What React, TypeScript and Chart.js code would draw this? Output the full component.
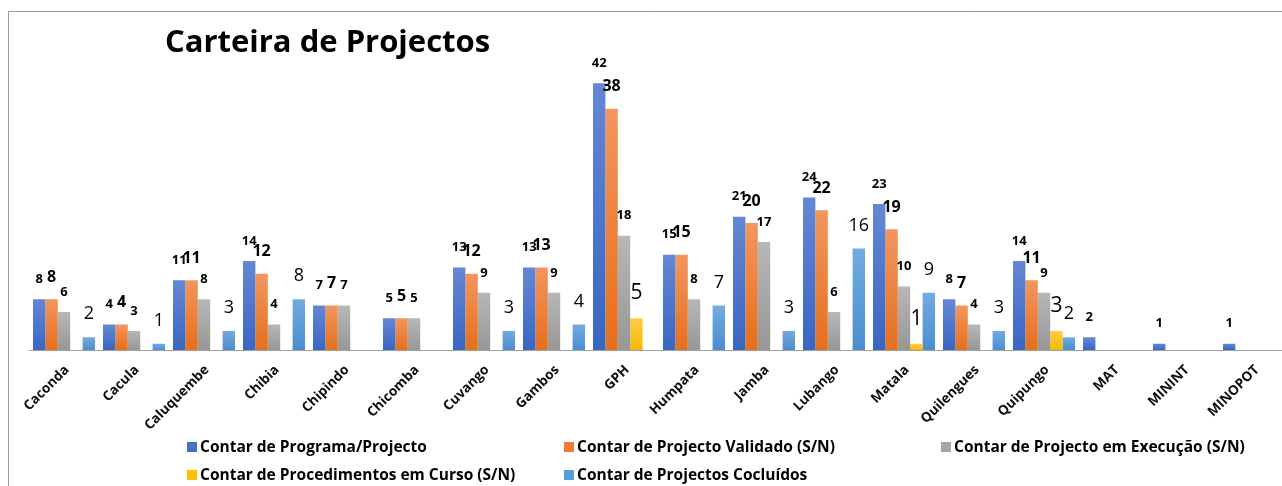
import React, { useEffect, useRef } from "react";
import { Chart, registerables } from "chart.js";

Chart.register(...registerables);

// ---------- data ----------
const categories = [
  "Caconda", "Cacula", "Caluquembe", "Chibia", "Chipindo", "Chicomba", "Cuvango", "Gambos", "GPH",
  "Humpata", "Jamba", "Lubango", "Matala", "Quilengues", "Quipungo", "MAT", "MININT", "MINOPOT",
];
const programaProjecto = [8, 4, 11, 14, 7, 5, 13, 13, 42, 15, 21, 24, 23, 8, 14, 2, 1, 1];
const projectoValidado = [8, 4, 11, 12, 7, 5, 12, 13, 38, 15, 20, 22, 19, 7, 11, null, null, null];
const projectoExecucao = [6, 3, 8, 4, 7, 5, 9, 9, 18, 8, 17, 6, 10, 4, 9, null, null, null];
const procedimentosCurso = [null, null, null, null, null, null, null, null, 5, null, null, null, 1, null, 3, null, null, null];
const projectosConcluidos = [2, 1, 3, 8, null, null, 3, 4, null, 7, 3, 16, 9, 3, 2, null, null, null];

const seriesNames = [
  "Contar de Programa/Projecto",
  "Contar de Projecto Validado (S/N)",
  "Contar de Projecto em Execução (S/N)",
  "Contar de Procedimentos em Curso (S/N)",
  "Contar de Projectos Cocluídos",
];
const seriesValues = [programaProjecto, projectoValidado, projectoExecucao, procedimentosCurso, projectosConcluidos];
const titleText = "Carteira de Projectos";

// ---------- styles ----------
const FONT = "'Open Sans', Lato, sans-serif";
const gradients: [string, string][] = [
  ["#6587D4", "#3966C3"],
  ["#F2965F", "#E56F1C"],
  ["#B7B7B7", "#979797"],
  ["#FFCE47", "#F5B800"],
  ["#72ABE0", "#4A8ECF"],
];
const legendColors = ["#4472C4", "#ED7D31", "#A5A5A5", "#FFC000", "#5B9BD5"];
const labelStyles = [
  { font: `bold 13px ${FONT}`, off: 20 },
  { font: `bold 16px ${FONT}`, off: 22 },
  { font: `bold 13px ${FONT}`, off: 20 },
  { font: `21px ${FONT}`, off: 25 },
  { font: `18px ${FONT}`, off: 23 },
];
const legendPos = [
  [187, 447], [564, 447], [941, 447], [187, 475], [564, 475],
];

const decorPlugin = {
  id: "decor",
  beforeDraw(chart: any) {
    const ctx = chart.ctx;
    ctx.save();
    ctx.fillStyle = "#ffffff";
    ctx.fillRect(0, 0, chart.width, chart.height);
    ctx.strokeStyle = "#9a9a9a";
    ctx.lineWidth = 1;
    ctx.beginPath();
    ctx.moveTo(8.5, chart.height);
    ctx.lineTo(8.5, 11.5);
    ctx.lineTo(chart.width, 11.5);
    ctx.stroke();
    // title
    ctx.fillStyle = "#000000";
    ctx.font = `bold 31px ${FONT}`;
    ctx.textBaseline = "alphabetic";
    ctx.textAlign = "left";
    ctx.fillText(titleText, 165, 52);
    // legend
    ctx.font = `bold 15.5px ${FONT}`;
    ctx.textBaseline = "middle";
    seriesNames.forEach((name, i) => {
      const [x, y] = legendPos[i];
      ctx.fillStyle = legendColors[i];
      ctx.fillRect(x, y - 5, 10, 10);
      ctx.fillStyle = "#000000";
      ctx.fillText(name, x + 13, y + 1);
    });
    ctx.restore();
  },
  afterDatasetsDraw(chart: any) {
    const ctx = chart.ctx;
    ctx.save();
    ctx.fillStyle = "#000000";
    ctx.textAlign = "center";
    ctx.textBaseline = "middle";
    chart.data.datasets.forEach((ds: any, i: number) => {
      const meta = chart.getDatasetMeta(i);
      ctx.font = labelStyles[i].font;
      meta.data.forEach((el: any, j: number) => {
        const v = ds.data[j];
        if (v === null || v === undefined || v === 0) return;
        ctx.fillText(String(v), el.x, el.y - labelStyles[i].off);
      });
    });
    ctx.restore();
  },
};

function barGradient(i: number) {
  return (c: any) => {
    const chart = c.chart;
    const y = chart.scales && chart.scales.y;
    const v = c.raw;
    if (!y || !chart.chartArea || v === null || v === undefined) return gradients[i][1];
    const top = y.getPixelForValue(v);
    const bottom = y.getPixelForValue(0);
    if (!isFinite(top) || !isFinite(bottom) || top === bottom) return gradients[i][1];
    const g = chart.ctx.createLinearGradient(0, top, 0, bottom);
    g.addColorStop(0, gradients[i][0]);
    g.addColorStop(1, gradients[i][1]);
    return g;
  };
}

export default function App() {
  const ref = useRef<HTMLCanvasElement | null>(null);
  useEffect(() => {
    if (!ref.current) return;
    const chart = new Chart(ref.current, {
      type: "bar",
      data: {
        labels: categories,
        datasets: seriesValues.map((vals, i) => ({
          label: seriesNames[i],
          data: vals,
          backgroundColor: barGradient(i),
          borderWidth: 0,
          categoryPercentage: 0.886,
          barPercentage: 1,
        })),
      },
      options: {
        animation: false,
        responsive: false,
        devicePixelRatio: 1,
        layout: { padding: { left: 29, right: 1, top: 64.25, bottom: 0 } },
        plugins: {
          legend: { display: false },
          title: { display: false },
          tooltip: { enabled: false },
        },
        scales: {
          x: {
            grid: { display: false },
            border: { display: true, color: "#a0a0a0", width: 1 },
            ticks: {
              autoSkip: false,
              maxRotation: 45,
              minRotation: 45,
              color: "#0d0d0d",
              padding: 4,
              labelOffset: 3,
              font: { family: FONT, size: 13.5, weight: "bold" },
            },
            afterFit: (s: any) => {
              s.height = 136;
              s.paddingLeft = 0;
              s.paddingRight = 0;
            },
          },
          y: {
            display: false,
            min: 0,
            max: 45,
          },
        },
      },
      plugins: [decorPlugin],
    } as any);
    return () => chart.destroy();
  }, []);
  return (
    <div style={{ position: "fixed", left: 0, top: 0, width: 1282, height: 486, overflow: "hidden", background: "#fff" }}>
      <canvas ref={ref} width={1290} height={486} style={{ width: 1290, height: 486, display: "block" }} />
    </div>
  );
}
